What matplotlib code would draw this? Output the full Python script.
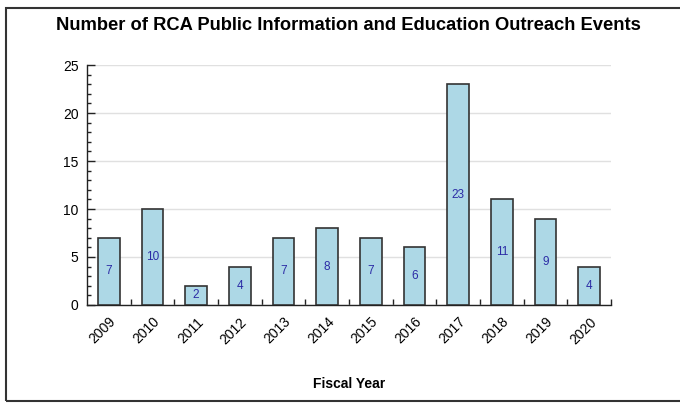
import matplotlib
matplotlib.use("Agg")
import matplotlib.pyplot as plt
from matplotlib.patches import Rectangle
from matplotlib.ticker import MultipleLocator, FixedLocator, NullFormatter

years = ["2009", "2010", "2011", "2012", "2013", "2014",
         "2015", "2016", "2017", "2018", "2019", "2020"]
events = [7, 10, 2, 4, 7, 8, 7, 6, 23, 11, 9, 4]

plt.rcParams['font.family'] = ['Liberation Sans', 'DejaVu Sans']

fig = plt.figure(figsize=(6.8, 4.03), dpi=100)
ax = fig.add_axes([87 / 680, 1 - 305 / 403, (611 - 87) / 680, (305 - 65) / 403])

x = list(range(len(years)))
bars = ax.bar(x, events, width=0.5, color="#add8e6", edgecolor="#333333",
              linewidth=1.2, zorder=3)

# value labels in the middle of each bar
for xi, v in zip(x, events):
    ax.text(xi, v / 2, str(v), ha="center", va="center", fontsize=8.5,
            color="#2b2ba6", zorder=4)

ax.set_xlim(-0.5, len(years) - 0.5)
ax.set_ylim(0, 25)

ax.yaxis.set_major_locator(MultipleLocator(5))
ax.yaxis.set_minor_locator(MultipleLocator(1))
ax.grid(axis="y", which="major", color="#e0e0e0", linewidth=1, zorder=0)

ax.set_xticks(x)
ax.set_xticklabels(years, rotation=45, ha="right", rotation_mode="anchor")
ax.xaxis.set_minor_locator(FixedLocator([i + 0.5 for i in range(len(years))]))
ax.xaxis.set_minor_formatter(NullFormatter())
ax.tick_params(axis="x", which="major", length=0, labelsize=10, pad=7)
ax.tick_params(axis="x", which="minor", direction="in", length=4, width=1,
               color="#222222")
ax.tick_params(axis="y", which="major", direction="in", length=6, width=1,
               labelsize=10, color="#222222", pad=6)
ax.tick_params(axis="y", which="minor", direction="in", length=3, width=1,
               color="#222222")

for side in ["top", "right"]:
    ax.spines[side].set_visible(False)
for side in ["left", "bottom"]:
    ax.spines[side].set_color("#222222")
    ax.spines[side].set_linewidth(1)

ax.set_xlabel("Fiscal Year", fontsize=10, fontweight="bold", labelpad=22)
fig.text(0.513, 1 - 26 / 403, "Number of RCA Public Information and Education Outreach Events",
         ha="center", va="center", fontsize=13.2, fontweight="bold")

# frame around the chart
fig.patches.append(Rectangle((6 / 680, 2 / 403), 1.0, 393 / 403,
                             transform=fig.transFigure, fill=False,
                             edgecolor="#333333", linewidth=1.5))

fig.savefig("out.png", dpi=100)
